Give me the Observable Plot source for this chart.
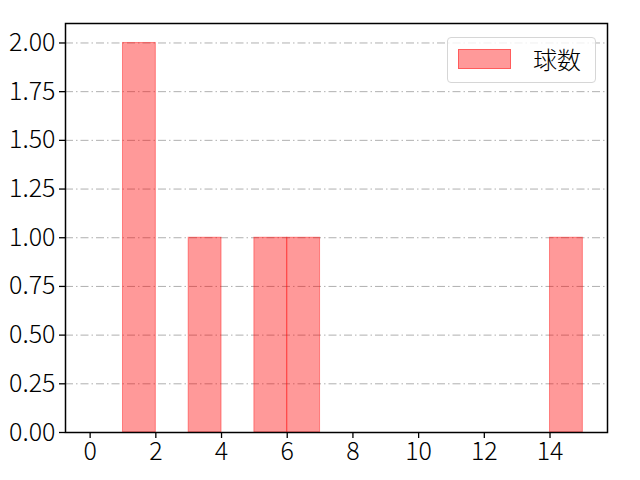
<!DOCTYPE html>
<html>
<head>
<meta charset="utf-8">
<script src="https://cdn.jsdelivr.net/npm/d3@7"></script>
<script src="https://cdn.jsdelivr.net/npm/@observablehq/plot@0.6"></script>
<style>
  html, body { margin: 0; padding: 0; background: #fff; }
  #wrap { position: relative; width: 640px; height: 480px; }
  #wrap svg text { font-family: "Noto Sans CJK JP", sans-serif !important; font-size: 25px !important; font-weight: 300; fill: #000; }
  #legend {
    position: absolute; left: 447px; top: 37px; width: 149px; height: 46px;
    border: 1px solid #d6d6d6; border-radius: 4px; background: rgba(255,255,255,0.8);
    box-sizing: border-box; font-family: "Noto Sans CJK JP", sans-serif; font-size: 24px; font-weight: 300;
  }
  #legend .sw { position: absolute; left: 10px; top: 11px; width: 53px; height: 20px;
    background: rgba(255,0,0,0.4); border: 1px solid rgba(255,0,0,0.4); box-sizing: border-box; }
  #legend .lb { position: absolute; left: 85px; top: 4px; line-height: 34px; color: #000; }
</style>
</head>
<body>
<div id="wrap"></div>
<script>
const binStart = [1, 3, 5, 6, 14];
const binEnd = [2, 4, 6, 7, 15];
const counts = [2, 1, 1, 1, 1];
const seriesName = "球数";
const xTicks = [0, 2, 4, 6, 8, 10, 12, 14];
const yTicks = [0, 0.25, 0.5, 0.75, 1, 1.25, 1.5, 1.75, 2];

const bins = binStart.map((s, i) => ({x1: s, x2: binEnd[i], y: counts[i]}));

const chart = Plot.plot({
  width: 640,
  height: 480,
  marginLeft: 65,
  marginRight: 33,
  marginTop: 23,
  marginBottom: 48,
  style: {background: "#fff", color: "#000", overflow: "visible"},
  x: {domain: [-0.75, 15.75], label: null},
  y: {domain: [0, 2.1], label: null},
  marks: [
    Plot.gridY(yTicks, {stroke: "#b0b0b0", strokeOpacity: 1, strokeWidth: 1, strokeDasharray: "8,3,1.5,3"}),
    Plot.rect(bins, {x1: "x1", x2: "x2", y1: 0, y2: "y", fill: "red", fillOpacity: 0.4, stroke: "red", strokeOpacity: 0.4, strokeWidth: 1}),
    Plot.axisX({ticks: xTicks, tickSize: 6, tickPadding: 4, strokeWidth: 1.3, label: null}),
    Plot.axisY({ticks: yTicks, tickSize: 6, tickPadding: 4, strokeWidth: 1.3, label: null, tickFormat: d3.format(".2f")}),
    Plot.frame({stroke: "#000", strokeWidth: 1.5})
  ]
});
document.getElementById("wrap").appendChild(chart);
const lg = document.createElement("div");
lg.id = "legend";
lg.innerHTML = `<div class="sw"></div><div class="lb">${seriesName}</div>`;
document.getElementById("wrap").appendChild(lg);
</script>
</body>
</html>
